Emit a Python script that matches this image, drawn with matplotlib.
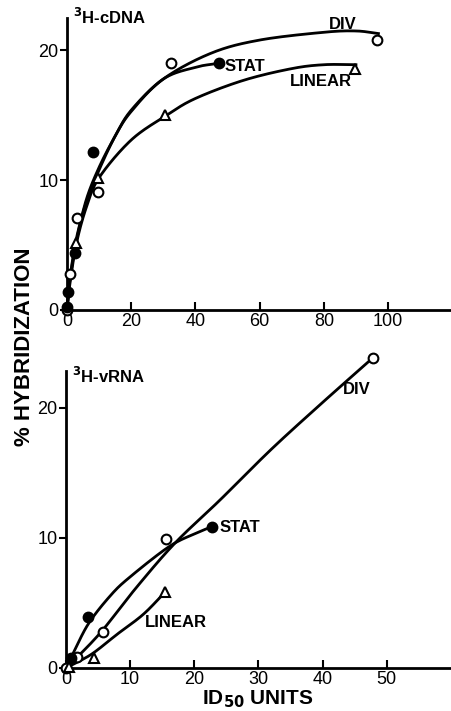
import numpy as np
import matplotlib
matplotlib.use("Agg")
import matplotlib.pyplot as plt

# --- top panel: 3H-cDNA ---
cdna_div_x = [0, 0.9, 3.1, 9.7, 32.5, 96.5]
cdna_div_y = [0, 2.8, 7.1, 9.1, 19.0, 20.8]
cdna_stat_x = [0.1, 0.3, 2.5, 8.1, 47.2]
cdna_stat_y = [0.2, 1.4, 4.4, 12.2, 19.0]
cdna_lin_x = [2.8, 9.6, 30.6, 89.7]
cdna_lin_y = [5.2, 10.2, 15.0, 18.6]

# hand-drawn fitted curves (knots)
cdna_div_cx = [0, 1, 3, 6, 10, 15, 20, 30, 45, 60, 80, 90, 97]
cdna_div_cy = [0, 2.6, 5.6, 8.3, 10.8, 13.4, 15.3, 17.8, 19.8, 20.8, 21.4, 21.5, 21.3]
cdna_stat_cx = [0, 1, 3, 6, 10, 15, 20, 30, 40, 47]
cdna_stat_cy = [0, 2.5, 5.4, 8.5, 11.0, 13.4, 15.4, 17.8, 18.7, 19.0]
cdna_lin_cx = [0, 1, 3, 6, 10, 20, 31, 40, 55, 70, 80, 90]
cdna_lin_cy = [0, 2.2, 5.2, 7.9, 10.2, 13.1, 15.0, 16.3, 17.7, 18.6, 18.9, 18.9]

# --- bottom panel: 3H-vRNA ---
vrna_div_x = [0, 1.7, 5.7, 15.6, 47.9]
vrna_div_y = [0, 0.85, 2.8, 9.9, 23.8]
vrna_stat_x = [0.8, 3.5, 22.8]
vrna_stat_y = [0.8, 3.9, 10.8]
vrna_lin_x = [0.5, 4.4, 15.4]
vrna_lin_y = [0.1, 0.8, 5.8]

vrna_div_cx = [0, 2, 5.7, 11, 17, 24, 32, 40, 48]
vrna_div_cy = [0, 0.95, 2.9, 6.2, 9.6, 12.9, 16.8, 20.4, 23.9]
vrna_stat_cx = [0, 1, 3.5, 7, 10, 16, 20, 23]
vrna_stat_cy = [0, 1.0, 3.4, 5.6, 7.0, 9.3, 10.3, 10.9]
vrna_lin_cx = [0, 2, 4.4, 8, 12, 15.4]
vrna_lin_cy = [0, 0.5, 1.2, 2.6, 4.1, 5.8]


def smooth(xs, ys, n=30):
    # Catmull-Rom through the knots
    p = np.column_stack([xs, ys]).astype(float)
    p = np.vstack([2 * p[0] - p[1], p, 2 * p[-1] - p[-2]])
    out = []
    t = np.linspace(0, 1, n)[:, None]
    for i in range(1, len(p) - 2):
        p0, p1, p2, p3 = p[i - 1], p[i], p[i + 1], p[i + 2]
        seg = 0.5 * ((2 * p1) + (-p0 + p2) * t
                     + (2 * p0 - 5 * p1 + 4 * p2 - p3) * t ** 2
                     + (-p0 + 3 * p1 - 3 * p2 + p3) * t ** 3)
        out.append(seg)
    out = np.vstack(out)
    return out[:, 0], out[:, 1]


plt.rcParams['font.family'] = ['Liberation Sans', 'DejaVu Sans']
fig = plt.figure(figsize=(4.51, 7.11), dpi=100)

ax1 = fig.add_axes([0.1486, 0.564, 0.8514, 0.4107])
ax2 = fig.add_axes([0.1463, 0.0605, 0.8537, 0.4175])

mk = dict(markersize=7, markeredgewidth=1.5, color='black', linestyle='none', zorder=3)


def style(ax, xmax, ymax, xticks):
    for s in ['top', 'right']:
        ax.spines[s].set_visible(False)
    for s in ['left', 'bottom']:
        ax.spines[s].set_linewidth(2)
    ax.set_xlim(0, xmax)
    ax.set_ylim(0, ymax)
    ax.set_xticks(xticks)
    ax.set_yticks([0, 10, 20])
    ax.tick_params(axis='x', direction='in', length=6, width=1.5, labelsize=13, pad=2)
    ax.tick_params(axis='y', direction='out', length=5, width=1.5, labelsize=13, pad=1)


# top
for cx, cy in [(cdna_div_cx, cdna_div_cy), (cdna_stat_cx, cdna_stat_cy), (cdna_lin_cx, cdna_lin_cy)]:
    sx, sy = smooth(cx, cy)
    ax1.plot(sx, sy, color='black', lw=2, clip_on=False)
ax1.plot(cdna_div_x, cdna_div_y, marker='o', markerfacecolor='white', clip_on=False, **mk)
ax1.plot(cdna_stat_x, cdna_stat_y, marker='o', markerfacecolor='black', clip_on=False, **mk)
ax1.plot(cdna_lin_x, cdna_lin_y, marker='^', markerfacecolor='white', clip_on=False, **mk)
style(ax1, 119.6, 22.5, [0, 20, 40, 60, 80, 100])
ax1.text(2, 22.6, r'$^{\mathbf{3}}$H-cDNA', fontsize=12, fontweight='bold', va='center')
ax1.text(86, 22.0, 'DIV', fontsize=12, fontweight='bold', ha='center', va='center')
ax1.text(49, 18.8, 'STAT', fontsize=12, fontweight='bold', ha='left', va='center')
ax1.text(79, 17.6, 'LINEAR', fontsize=12, fontweight='bold', ha='center', va='center')

# bottom
for cx, cy in [(vrna_div_cx, vrna_div_cy), (vrna_stat_cx, vrna_stat_cy), (vrna_lin_cx, vrna_lin_cy)]:
    sx, sy = smooth(cx, cy)
    ax2.plot(sx, sy, color='black', lw=2, clip_on=False)
ax2.plot(vrna_div_x, vrna_div_y, marker='o', markerfacecolor='white', clip_on=False, **mk)
ax2.plot(vrna_stat_x, vrna_stat_y, marker='o', markerfacecolor='black', clip_on=False, **mk)
ax2.plot(vrna_lin_x, vrna_lin_y, marker='^', markerfacecolor='white', clip_on=False, **mk)
style(ax2, 60, 22.8, [0, 10, 20, 30, 40, 50])
ax2.text(1, 22.4, r'$^{\mathbf{3}}$H-vRNA', fontsize=12, fontweight='bold', va='center')
ax2.text(45.3, 21.4, 'DIV', fontsize=12, fontweight='bold', ha='center', va='center')
ax2.text(24, 10.8, 'STAT', fontsize=12, fontweight='bold', ha='left', va='center')
ax2.text(17.2, 3.5, 'LINEAR', fontsize=12, fontweight='bold', ha='center', va='center')

fig.text(0.055, 0.512, '% HYBRIDIZATION', rotation=90, fontsize=16, fontweight='bold',
         ha='center', va='center')
fig.text(0.572, 0.016, r'ID$_{\mathbf{50}}$ UNITS', fontsize=15, fontweight='bold',
         ha='center', va='center')

fig.savefig('out.png', dpi=100)
